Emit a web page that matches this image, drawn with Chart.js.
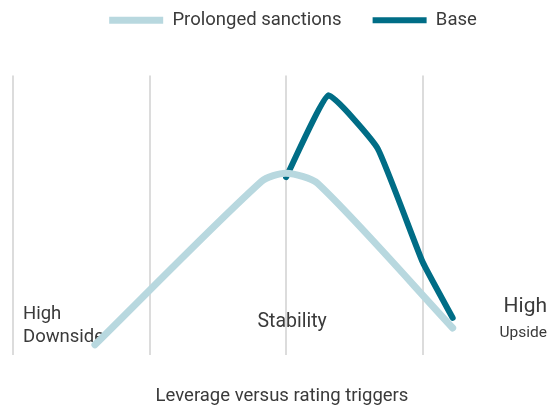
<!DOCTYPE html>
<html>
<head>
<meta charset="utf-8">
<script src="https://cdn.jsdelivr.net/npm/chart.js@4/dist/chart.umd.min.js"></script>
<style>
  html, body { margin: 0; padding: 0; background: #fff; }
  #wrap { width: 551px; height: 407px; }
</style>
</head>
<body>
<div id="wrap"><canvas id="leverageChart"></canvas></div>
<script>
// zones along the horizontal axis (0 = far left, 3 = last divider)
const zoneTicks = [0, 1, 2, 3];

const prolongedX = [0.60, 1.82, 2.00, 2.23, 3.22];
const prolongedY = [3.6, 62.1, 65.0, 61.4, 9.6];

const baseX = [2.00, 2.31, 2.67, 3.00, 3.22];
const baseY = [63.6, 92.9, 73.9, 33.2, 13.2];

const seriesNames = ['Prolonged sanctions', 'Base'];
const axisTitle = 'Leverage versus rating triggers';

const FONT = 'Roboto, "DejaVu Sans", sans-serif';
const TEXT = '#3a3a3a';

function toPoints(xs, ys) {
  return xs.map((x, i) => ({ x: x, y: ys[i] }));
}

// zone labels under the curves
const zoneLabels = {
  id: 'zoneLabels',
  beforeDatasetsDraw(chart) {
    const { ctx, chartArea, scales } = chart;
    const x = scales.x;
    const b = chartArea.bottom;
    ctx.save();
    ctx.fillStyle = TEXT;
    ctx.textBaseline = 'alphabetic';

    ctx.font = '18.5px ' + FONT;
    ctx.textAlign = 'left';
    ctx.fillText('High', x.getPixelForValue(0) + 10, b - 36);
    ctx.fillText('Downside', x.getPixelForValue(0) + 10, b - 13);

    ctx.font = '19.5px ' + FONT;
    ctx.textAlign = 'center';
    ctx.fillText('Stability', x.getPixelForValue(2) + 6, b - 28);

    ctx.textAlign = 'right';
    ctx.font = '21px ' + FONT;
    ctx.fillText('High', chartArea.right - 4, b - 43);
    ctx.font = '15.5px ' + FONT;
    ctx.fillText('Upside', chartArea.right - 4, b - 18);
    ctx.restore();
  }
};

// leave room between the legend and the plot, nudge legend right
const legendGap = {
  id: 'legendGap',
  beforeInit(chart) {
    const fit = chart.legend.fit;
    chart.legend.fit = function () {
      fit.bind(chart.legend)();
      this.height += 36;
    };
  },
  afterLayout(chart) {
    chart.legend.left += 22;
  }
};

function drawChart() {
  new Chart(document.getElementById('leverageChart'), {
    type: 'line',
    data: {
      datasets: [
        {
          label: seriesNames[0],
          data: toPoints(prolongedX, prolongedY),
          borderColor: '#b8d8df',
          backgroundColor: '#b8d8df',
          borderWidth: 7,
          borderCapStyle: 'round',
          borderJoinStyle: 'round',
          tension: 0.25,
          pointRadius: 0
        },
        {
          label: seriesNames[1],
          data: toPoints(baseX, baseY),
          borderColor: '#006d86',
          backgroundColor: '#006d86',
          borderWidth: 6,
          borderCapStyle: 'round',
          borderJoinStyle: 'round',
          tension: 0.12,
          pointRadius: 0
        }
      ]
    },
    options: {
      responsive: true,
      maintainAspectRatio: false,
      animation: false,
      layout: { padding: { left: 13, right: 0, top: -20, bottom: 0 } },
      plugins: {
        tooltip: { enabled: false },
        legend: {
          position: 'top',
          labels: {
            usePointStyle: true,
            pointStyle: 'line',
            pointStyleWidth: 54,
            padding: 31,
            color: TEXT,
            font: { family: FONT, size: 18.5 }
          }
        }
      },
      scales: {
        x: {
          type: 'linear',
          min: 0,
          max: 3.94,
          afterBuildTicks: (scale) => {
            scale.ticks = zoneTicks.map(v => ({ value: v }));
          },
          ticks: { display: false },
          border: { display: false },
          grid: { color: '#dcdcdc', lineWidth: 2, drawTicks: false },
          title: {
            display: true,
            text: axisTitle,
            color: TEXT,
            font: { family: FONT, size: 18.5 },
            padding: { top: 30, bottom: 0 }
          }
        },
        y: {
          display: false,
          min: 0,
          max: 100
        }
      }
    },
    plugins: [zoneLabels, legendGap]
  });
}

document.fonts.load('18.5px Roboto').then(drawChart, drawChart);
</script>
</body>
</html>
